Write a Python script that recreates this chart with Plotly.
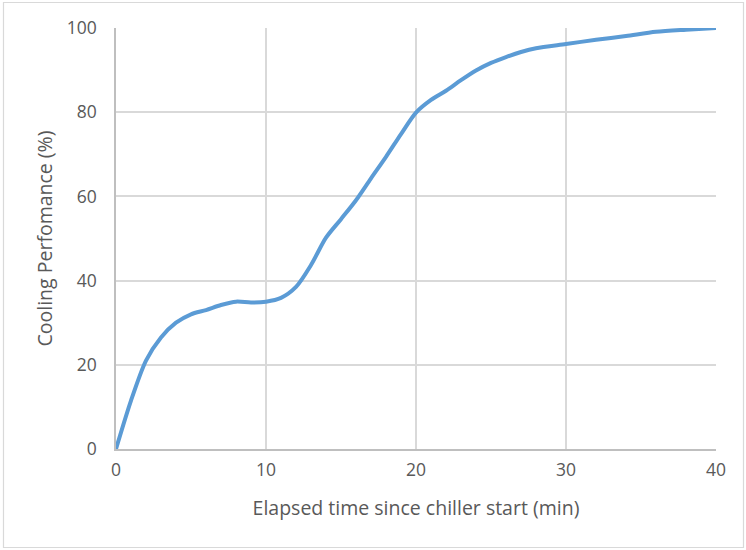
import plotly.graph_objects as go

time_min = [0, 1, 2, 3, 4, 5, 6, 7, 8, 9, 10, 11, 12, 13, 14, 15, 16, 17, 18, 19, 20,
            21, 22, 23, 24, 25, 26, 27, 28, 30, 32, 34, 36, 38, 40]
performance = [0, 11.5, 21, 26.5, 30, 32, 33, 34.2, 35, 34.8, 35, 35.9, 38.5, 43.7, 50.2,
               54.6, 59.1, 64.3, 69.4, 74.8, 79.9, 82.9, 85.1, 87.6, 89.9, 91.7, 93.1,
               94.3, 95.2, 96.2, 97.2, 98.1, 99.1, 99.6, 100]
x_ticks = [0, 10, 20, 30, 40]
y_ticks = [0, 20, 40, 60, 80, 100]

font_family = "'Open Sans', sans-serif"
tick_color = "#595959"

fig = go.Figure()
fig.add_trace(go.Scatter(
    x=time_min, y=performance, mode="lines",
    line=dict(color="#5b9bd5", width=4, shape="spline", smoothing=0.8),
    showlegend=False, hoverinfo="skip"))

fig.update_layout(
    width=746, height=550,
    margin=dict(l=116, r=30, t=28, b=101),
    paper_bgcolor="white", plot_bgcolor="white",
    font=dict(family=font_family, color=tick_color, size=17),
    xaxis=dict(range=[0, 40], tickvals=x_ticks, showgrid=True, gridcolor="#d9d9d9",
               gridwidth=1.5, zeroline=False, showline=True, linecolor="#bfbfbf",
               linewidth=1.5, ticks="", ticklabelstandoff=4,
               tickfont=dict(size=17.5, color=tick_color),
               title=dict(text="Elapsed time since chiller start (min)",
                          font=dict(size=19.5, color=tick_color), standoff=22)),
    yaxis=dict(range=[0, 100], tickvals=y_ticks, showgrid=True, gridcolor="#d9d9d9",
               gridwidth=1.5, zeroline=False, showline=True, linecolor="#bfbfbf",
               linewidth=1.5, ticks="", ticklabelstandoff=14,
               tickfont=dict(size=17.5, color=tick_color),
               title=dict(text="Cooling Perfomance (%)",
                          font=dict(size=19.5, color=tick_color), standoff=9)),
    shapes=[dict(type="rect", xref="paper", yref="paper",
                 x0=-0.1875, x1=1.0458, y0=-0.234, y1=1.0606,
                 line=dict(color="#d9d9d9", width=1.2), fillcolor="rgba(0,0,0,0)",
                 layer="below")],
)

fig.write_html("out.html")
